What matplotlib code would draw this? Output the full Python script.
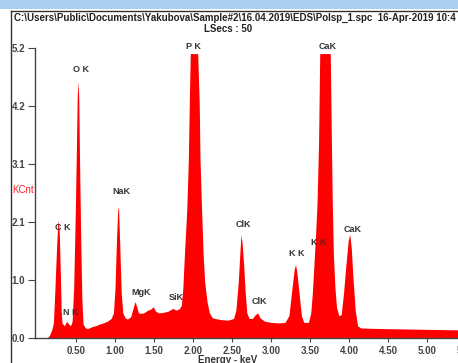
import numpy as np
import matplotlib
matplotlib.use("Agg")
import matplotlib.pyplot as plt
from matplotlib.patches import Rectangle
from matplotlib.lines import Line2D

# spectrum outline: energy (keV) and counts (KCnt)
energy = [0.00, 0.13, 0.16, 0.19, 0.21, 0.23, 0.25, 0.265, 0.275, 0.285, 0.30, 0.31,
          0.32, 0.35, 0.38, 0.40, 0.43, 0.45, 0.47, 0.49, 0.505, 0.515, 0.525, 0.535,
          0.545, 0.56, 0.575, 0.59, 0.62, 0.65, 0.70, 0.75, 0.80, 0.85, 0.90, 0.95,
          0.98, 1.00, 1.02, 1.035, 1.045, 1.06, 1.08, 1.10, 1.13, 1.16, 1.20, 1.235,
          1.255, 1.275, 1.30, 1.34, 1.38, 1.42, 1.46, 1.49, 1.52, 1.56, 1.62, 1.68,
          1.74, 1.78, 1.82, 1.85, 1.87, 1.89, 1.92, 1.94, 1.955, 1.965, 2.06, 2.08,
          2.09, 2.11, 2.13, 2.15, 2.18, 2.21, 2.25, 2.35, 2.45, 2.52, 2.55, 2.58,
          2.60, 2.615, 2.63, 2.65, 2.67, 2.69, 2.72, 2.76, 2.80, 2.83, 2.86, 2.92,
          3.00, 3.10, 3.18, 3.23, 3.27, 3.30, 3.315, 3.33, 3.36, 3.39, 3.42, 3.48,
          3.51, 3.53, 3.55, 3.57, 3.59, 3.61, 3.625, 3.76, 3.775, 3.785, 3.80, 3.82,
          3.84, 3.87, 3.90, 3.93, 3.96, 3.99, 4.01, 4.03, 4.05, 4.08, 4.11, 4.15,
          4.40, 4.80, 5.20, 5.70]
counts = [0.00, 0.00, 0.05, 0.15, 0.27, 0.90, 1.60, 2.05, 2.10, 1.90, 1.10, 0.50,
          0.27, 0.22, 0.30, 0.26, 0.22, 0.30, 0.90, 2.20, 3.40, 4.30, 4.60, 4.30,
          3.20, 1.80, 0.70, 0.25, 0.18, 0.17, 0.20, 0.22, 0.25, 0.27, 0.30, 0.35,
          0.45, 0.90, 1.80, 2.30, 2.35, 1.70, 0.80, 0.45, 0.36, 0.34, 0.38, 0.55,
          0.65, 0.58, 0.45, 0.44, 0.46, 0.50, 0.52, 0.56, 0.48, 0.45, 0.46, 0.48,
          0.53, 0.50, 0.52, 0.58, 0.90, 1.50, 2.30, 3.20, 4.40, 5.10, 5.10, 4.20,
          3.20, 2.30, 1.50, 1.00, 0.65, 0.45, 0.36, 0.33, 0.32, 0.35, 0.50, 1.00,
          1.50, 1.85, 1.70, 1.30, 0.80, 0.45, 0.35, 0.35, 0.42, 0.45, 0.36, 0.30,
          0.28, 0.27, 0.28, 0.40, 0.90, 1.25, 1.31, 1.20, 0.80, 0.40, 0.28, 0.28,
          0.45, 0.80, 1.30, 1.80, 2.40, 3.50, 5.10, 5.10, 3.50, 2.50, 1.50, 0.90,
          0.55, 0.40, 0.42, 0.80, 1.30, 1.75, 1.86, 1.60, 1.10, 0.50, 0.22, 0.18,
          0.17, 0.16, 0.15, 0.14]

# peak labels
peak_names = ["C K", "N K", "O K", "NaK", "MgK", "SiK", "P K", "ClK", "ClK",
              "K K", "K K", "CaK", "CaK"]
peak_energy = [0.33, 0.43, 0.56, 1.08, 1.33, 1.78, 2.01, 2.65, 2.85,
               3.33, 3.61, 3.72, 4.05]
label_height = [1.99, 0.45, 4.82, 2.62, 0.82, 0.73, 5.22, 2.03, 0.66,
                1.52, 1.72, 5.22, 1.95]

x_ticks = [0.5, 1.0, 1.5, 2.0, 2.5, 3.0, 3.5, 4.0, 4.5, 5.0, 5.5]
y_ticks = [0.0, 1.04, 2.08, 3.12, 4.16, 5.2]
y_labels = ["0.0", "1.0", "2.1", "3.1", "4.2", "5.2"]

title = r"C:\Users\Public\Documents\Yakubova\Sample#2\16.04.2019\EDS\Polsp_1.spc  16-Apr-2019 10:4"

W, H = 458, 363
plt.rcParams['font.family'] = ['Liberation Sans', 'DejaVu Sans']
fig = plt.figure(figsize=(W / 100, H / 100), dpi=100)
fig.patch.set_facecolor("white")

# window chrome
fig.patches.append(Rectangle((0, 1 - 9 / H), 1, 9 / H, transform=fig.transFigure,
                             facecolor="#a8cff0", edgecolor="none"))
fig.lines.append(Line2D([11 / W, 1], [1 - 11 / H, 1 - 11 / H], transform=fig.transFigure,
                        color="#333333", lw=1.0))
fig.lines.append(Line2D([11 / W, 11 / W], [0, 1 - 11 / H], transform=fig.transFigure,
                        color="#333333", lw=1.0))

fig.text(14 / W, 1 - 18 / H, title, fontsize=7, fontweight="bold", color="#222222",
         ha="left", va="center")
fig.text(228 / W, 1 - 29 / H, "LSecs : 50", fontsize=7, fontweight="bold",
         color="#222222", ha="center", va="center")
fig.text(12 / W, 1 - 190 / H, "KCnt", fontsize=7, color="#ff2020",
         ha="left", va="center")
fig.text(228 / W, 1 - 360 / H, "Energy - keV", fontsize=7, fontweight="bold",
         color="#333333", ha="center", va="center")

ax = fig.add_axes([35 / W, 1 - 338 / H, (480 - 35) / W, (338 - 48) / H])
ax.fill_between(energy, counts, 0, color="#ff0000", lw=0)
ax.set_xlim(-0.026, 5.68)
ax.set_ylim(0, 5.2)

for name, e, h in zip(peak_names, peak_energy, label_height):
    ax.text(e, h, name, fontsize=6.5, fontweight="bold", color="#333333",
            ha="center", va="center", clip_on=False)

ax.set_xticks(x_ticks)
ax.set_xticklabels(["%.2f" % t for t in x_ticks])
ax.set_yticks(y_ticks)
ax.set_yticklabels(y_labels)
ax.tick_params(axis="x", length=3, width=0.8, pad=2.5, labelsize=7, colors="#444444")
ax.tick_params(axis="y", length=5, width=0.8, pad=2, labelsize=7, colors="#444444")
for t in ax.get_xticklabels() + ax.get_yticklabels():
    t.set_fontweight("bold")

for side in ["top", "right"]:
    ax.spines[side].set_visible(False)
for side in ["left", "bottom"]:
    ax.spines[side].set_color("#444444")
    ax.spines[side].set_linewidth(1.0)

fig.savefig("out.png", dpi=100)
